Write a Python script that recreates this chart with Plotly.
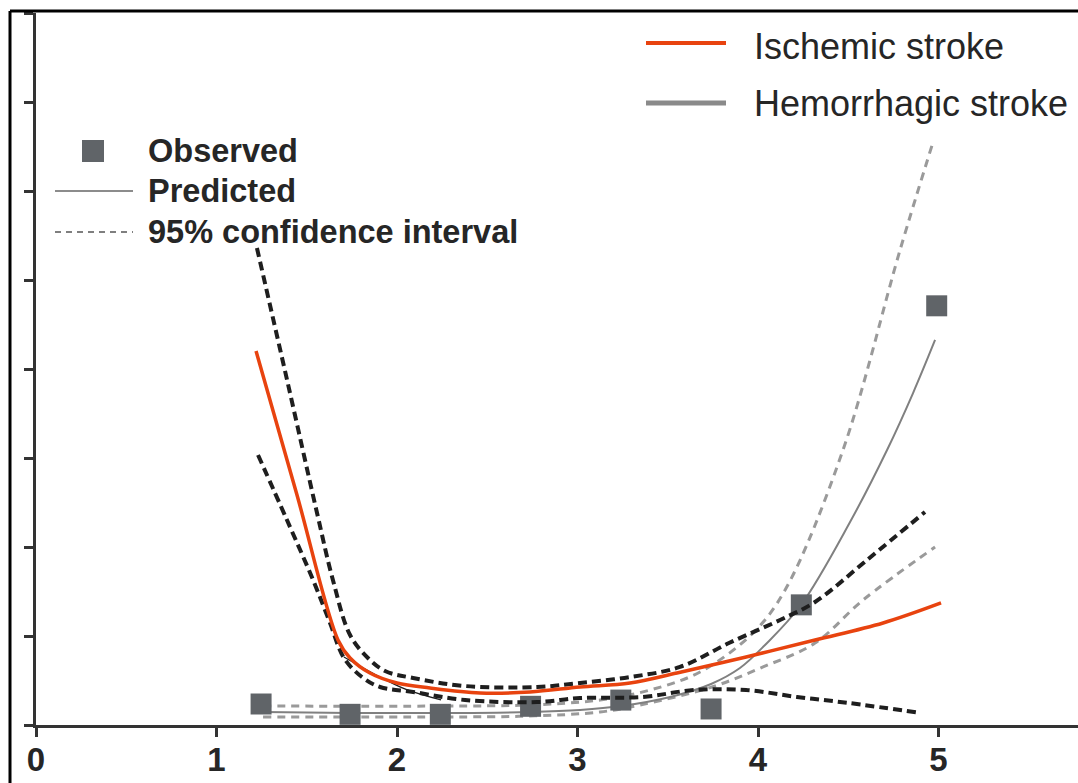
import plotly.graph_objects as go

# ---------------- data ----------------
x_ticks = [0, 1, 2, 3, 4, 5]
x_tick_labels = ["0", "1", "2", "3", "4", "5"]
y_ticks = [0, 1, 2, 3, 4, 5, 6, 7, 8]

obs_x = [1.247, 1.74, 2.24, 2.74, 3.24, 3.74, 4.24, 4.99]
obs_y = [0.236, 0.12, 0.12, 0.21, 0.28, 0.18, 1.35, 4.71]

isch_x = [1.219, 1.446, 1.673, 1.740, 1.850, 2.000, 2.183, 2.460, 2.737, 3.014,
          3.291, 3.551, 3.934, 4.316, 4.693, 5.014]
isch_y = [4.202, 2.584, 0.955, 0.753, 0.584, 0.472, 0.416, 0.360, 0.371, 0.427,
          0.472, 0.584, 0.764, 0.955, 1.146, 1.371]

isch_up_x = [1.224, 1.391, 1.557, 1.645, 1.740, 1.839, 1.934, 2.089, 2.377, 2.776,
             3.014, 3.291, 3.568, 3.839, 4.122, 4.316, 4.604, 4.925]
isch_up_y = [5.360, 3.876, 2.382, 1.629, 1.011, 0.753, 0.607, 0.528, 0.438, 0.427,
             0.472, 0.539, 0.652, 0.921, 1.180, 1.382, 1.854, 2.393]

isch_lo_x = [1.230, 1.391, 1.535, 1.629, 1.706, 1.806, 1.906, 2.089, 2.377, 2.776,
             3.014, 3.363, 3.645, 3.934, 4.216, 4.504, 4.903]
isch_lo_y = [3.034, 2.300, 1.629, 1.146, 0.753, 0.539, 0.427, 0.371, 0.281, 0.258,
             0.303, 0.315, 0.393, 0.393, 0.315, 0.247, 0.135]

isch_old_x = [1.706, 1.906, 2.050, 2.244]
isch_old_y = [0.764, 0.539, 0.400, 0.281]

hem_x = [1.258, 1.740, 2.238, 2.737, 3.014, 3.241, 3.513, 3.740, 3.900, 4.039,
         4.238, 4.510, 4.715, 4.859, 4.981]
hem_y = [0.146, 0.135, 0.135, 0.146, 0.169, 0.213, 0.315, 0.461, 0.640, 0.899,
         1.348, 2.281, 3.090, 3.730, 4.326]

hem_up_x = [1.258, 2.238, 2.737, 3.125, 3.402, 3.679, 3.972, 4.150, 4.471, 4.787, 4.970]
hem_up_y = [0.213, 0.213, 0.225, 0.281, 0.393, 0.596, 1.034, 1.517, 3.090, 5.337, 6.551]

hem_lo_x = [1.258, 2.238, 2.737, 3.125, 3.346, 3.745, 4.028, 4.316, 4.582, 4.981]
hem_lo_y = [0.090, 0.090, 0.101, 0.146, 0.225, 0.427, 0.652, 0.921, 1.404, 2.000]

legend_left = ["Observed", "Predicted", "95% confidence interval"]
legend_right = ["Ischemic stroke", "Hemorrhagic stroke"]

# ---------------- styles ----------------
ORANGE = "#e8430f"
BLACK = "#1e1e1e"
GRAY_D = "#9a9a9a"
GRAY_S = "#808080"
SQ = "#606468"
TXT = "#262626"
FONT = "Liberation Sans"

W, H = 1078, 783
ML, MT, MB = 36, 13, 58
PW, PH = W - ML, H - MT - MB


def px(x):
    return (x - ML) / PW


def py(y):
    return (H - MB - y) / PH


fig = go.Figure()

fig.add_trace(go.Scatter(x=hem_up_x, y=hem_up_y, mode="lines", line_shape="spline",
                         line=dict(color=GRAY_D, width=3, dash="8px,6px"), showlegend=False))
fig.add_trace(go.Scatter(x=hem_lo_x, y=hem_lo_y, mode="lines", line_shape="spline",
                         line=dict(color=GRAY_D, width=3, dash="8px,6px"), showlegend=False))
fig.add_trace(go.Scatter(x=hem_x, y=hem_y, mode="lines", line_shape="spline",
                         line=dict(color=GRAY_S, width=2), showlegend=False))
fig.add_trace(go.Scatter(x=obs_x, y=obs_y, mode="markers",
                         marker=dict(symbol="square", size=21, color=SQ), showlegend=False))
fig.add_trace(go.Scatter(x=isch_up_x, y=isch_up_y, mode="lines", line_shape="spline",
                         line=dict(color=BLACK, width=4, dash="9px,5px"), showlegend=False))
fig.add_trace(go.Scatter(x=isch_lo_x, y=isch_lo_y, mode="lines", line_shape="spline",
                         line=dict(color=BLACK, width=4, dash="9px,5px"), showlegend=False))
fig.add_trace(go.Scatter(x=isch_old_x, y=isch_old_y, mode="lines", line_shape="spline",
                         line=dict(color=BLACK, width=1.3), showlegend=False))
fig.add_trace(go.Scatter(x=isch_x, y=isch_y, mode="lines", line_shape="spline",
                         line=dict(color=ORANGE, width=3.5), showlegend=False))

shapes = []
# outer frame (left and top)
shapes.append(dict(type="line", xref="paper", yref="paper", x0=px(10), x1=px(10),
                   y0=py(11), y1=py(H + 5), line=dict(color="#000", width=3)))
shapes.append(dict(type="line", xref="paper", yref="paper", x0=px(10), x1=px(W + 5),
                   y0=py(11), y1=py(11), line=dict(color="#000", width=3)))
# left legend glyphs
shapes.append(dict(type="rect", xref="paper", yref="paper", x0=px(82), x1=px(104),
                   y0=py(162), y1=py(140), fillcolor=SQ, line=dict(width=0)))
shapes.append(dict(type="line", xref="paper", yref="paper", x0=px(55), x1=px(133),
                   y0=py(191), y1=py(191), line=dict(color="#666", width=1.3)))
shapes.append(dict(type="line", xref="paper", yref="paper", x0=px(55), x1=px(133),
                   y0=py(232), y1=py(232), line=dict(color="#555", width=1.5, dash="6px,5px")))
# right legend glyphs
shapes.append(dict(type="line", xref="paper", yref="paper", x0=px(646), x1=px(726),
                   y0=py(43), y1=py(43), line=dict(color=ORANGE, width=4)))
shapes.append(dict(type="line", xref="paper", yref="paper", x0=px(646), x1=px(726),
                   y0=py(103), y1=py(103), line=dict(color="#8a8a8a", width=5)))

annotations = []
for txt, yy in zip(legend_left, [151, 191, 232]):
    annotations.append(dict(text=txt, xref="paper", yref="paper", x=px(146), y=py(yy),
                            xanchor="left", yanchor="middle", showarrow=False,
                            font=dict(family=FONT, size=32.5, color=TXT, weight="bold")))
for txt, yy in zip(legend_right, [46, 104]):
    annotations.append(dict(text=txt, xref="paper", yref="paper", x=px(752), y=py(yy),
                            xanchor="left", yanchor="middle", showarrow=False,
                            font=dict(family=FONT, size=36, color=TXT)))

fig.update_layout(
    width=W, height=H,
    margin=dict(l=ML, r=0, t=MT, b=MB, pad=0, autoexpand=False),
    paper_bgcolor="white", plot_bgcolor="white",
    shapes=shapes, annotations=annotations,
    xaxis=dict(range=[0, PW / 180.5], tickvals=x_ticks, ticktext=x_tick_labels,
               automargin=False, ticklabelstandoff=-5,
               showgrid=False, zeroline=False, showline=True, linecolor="#333", linewidth=2.5,
               ticks="outside", ticklen=9, tickwidth=2.5, tickcolor="#333",
               tickfont=dict(family=FONT, size=33, color=TXT, weight="bold")),
    yaxis=dict(range=[0, 8], tickvals=y_ticks, showticklabels=False, automargin=False,
               showgrid=False, zeroline=False, showline=True, linecolor="#333", linewidth=2.5,
               ticks="outside", ticklen=9, tickwidth=2.5, tickcolor="#333"),
)

fig.write_html("out.html")
